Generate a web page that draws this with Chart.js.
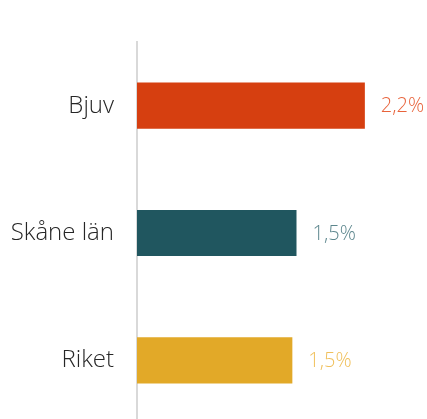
<!DOCTYPE html>
<html>
<head>
<meta charset="utf-8">
<script src="https://cdn.jsdelivr.net/npm/chart.js@4/dist/chart.umd.min.js"></script>
<style>
html,body{margin:0;padding:0;background:#fff;overflow:hidden;}
#wrap{width:427px;height:424px;position:relative;}
</style>
</head>
<body>
<div id="wrap"><canvas id="c"></canvas></div>
<script>
const categories = ["Bjuv", "Skåne län", "Riket"];
const values = [2.2, 1.54, 1.5];
const barColors = ["#d63f10", "#20565f", "#e2a928"];
const labelColors = ["#e8633b", "#5c868d", "#f0c05c"];

const FONT = "'Open Sans', 'Segoe UI', sans-serif";

const valueLabels = {
  id: 'valueLabels',
  afterDatasetsDraw(chart) {
    const ctx = chart.ctx;
    const meta = chart.getDatasetMeta(0);
    ctx.save();
    ctx.font = "300 20px " + FONT;
    ctx.textBaseline = 'middle';
    ctx.textAlign = 'left';
    meta.data.forEach((bar, i) => {
      ctx.fillStyle = labelColors[i];
      const txt = values[i].toFixed(1).replace('.', ',') + '%';
      ctx.fillText(txt, bar.x + 16, bar.y + 1);
    });
    ctx.restore();
  }
};

new Chart(document.getElementById('c'), {
  type: 'bar',
  data: {
    labels: categories,
    datasets: [{
      data: values,
      backgroundColor: barColors,
      borderWidth: 0,
      categoryPercentage: 1,
      barPercentage: 0.362
    }]
  },
  options: {
    indexAxis: 'y',
    responsive: true,
    maintainAspectRatio: false,
    animation: false,
    layout: { padding: { top: 42, right: 0, bottom: 0, left: 0 } },
    plugins: { legend: { display: false }, tooltip: { enabled: false } },
    scales: {
      x: { display: false, min: 0, max: 2.8 },
      y: {
        grid: { display: false, drawTicks: false },
        border: { display: true, color: '#d9d9d9', width: 2 },
        ticks: { color: '#262626', padding: 23, font: { family: FONT, size: 24, weight: 300 } },
        afterFit(scale) { scale.width = 137; scale.paddingTop = 0; scale.paddingBottom = 0; }
      }
    }
  },
  plugins: [valueLabels]
});
</script>
</body>
</html>
